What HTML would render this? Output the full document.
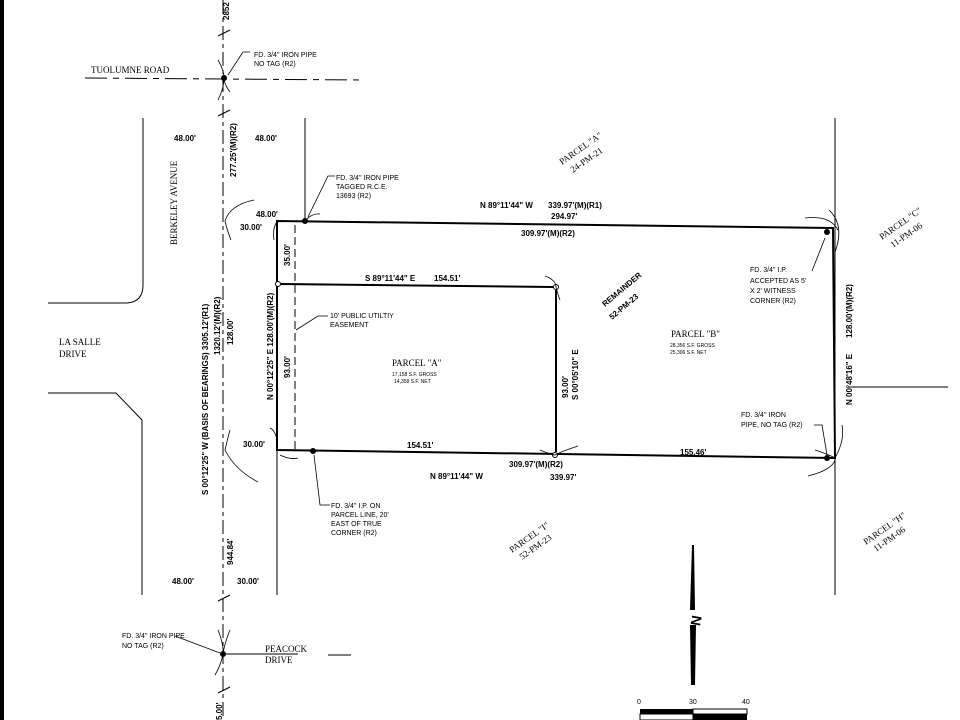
<!DOCTYPE html>
<html><head><style>
html,body{margin:0;padding:0;background:#fff;}
svg{display:block;}
text{font-family:"Liberation Sans",sans-serif;fill:#000;}
.s{font-size:7px;}
.b{font-size:8px;font-weight:bold;}
.r{font-family:"Liberation Serif",serif;font-size:9px;}
</style></head><body>
<svg width="960" height="720" viewBox="0 0 960 720" xmlns="http://www.w3.org/2000/svg">
<rect x="0" y="0" width="4" height="720" fill="#000"/>
<g stroke="#000" fill="none" stroke-width="1">
<line x1="223" y1="0" x2="223" y2="720" stroke-dasharray="14,4,4,4"/>
<line x1="85" y1="78" x2="363" y2="80" stroke-dasharray="22,6,6,6"/>
<line x1="223" y1="654" x2="298" y2="654"/><line x1="328" y1="655" x2="351" y2="655"/>
<path d="M143 118 V285 Q143 303 125 303 H48"/>
<path d="M48 393 H116 L142 420 V595"/>
<line x1="305" y1="118" x2="305" y2="221"/>
<line x1="277" y1="450" x2="277" y2="595"/>
<line x1="835" y1="118" x2="835" y2="595"/>
<line x1="848" y1="387" x2="948" y2="387"/>
<line x1="295" y1="225" x2="295" y2="452" stroke-dasharray="8,4"/>
<path d="M218 36 L230 30 M218 116 L230 110 M218 601 L230 595 M218 693 L230 687" />
</g>
<g stroke="#000" fill="none" stroke-width="2">
<path d="M277 221 L833 228 L835 458 L277 450 Z"/>
<path d="M281 284 L553 287 M556 290 V452"/>
</g>
<g fill="#000">
<circle cx="224" cy="78" r="3"/><circle cx="305" cy="221" r="3"/><circle cx="827" cy="232" r="3"/>
<circle cx="313" cy="451" r="3"/><circle cx="827" cy="458" r="3"/><circle cx="223" cy="654" r="3"/>
</g>
<g fill="#fff" stroke="#000">
<circle cx="278" cy="284" r="2.5"/><circle cx="556" cy="287" r="2.5"/><circle cx="555" cy="455" r="2.5"/>
</g>
<g stroke="#000" fill="none" stroke-width="0.8">
<path d="M218 60 Q224 70 224 78 Q224 88 218 100 M230 92 Q224 84 224 78"/>
<path d="M254 200 Q230 205 225 221 Q227 230 231 240"/>
<path d="M829 210 Q845 225 835 252 M805 218 Q830 215 838 230"/>
<path d="M815 450 Q830 455 835 458 Q845 440 842 425 M808 476 Q832 470 835 460"/>
<path d="M258 482 Q235 470 225 450 Q228 437 230 430"/>
<path d="M277 440 Q275 430 270 428 M280 455 Q290 460 298 458"/>
<path d="M218 630 Q224 645 223 654 Q221 665 215 675 M230 630 Q224 645 223 654"/>
<path d="M274 240 Q272 230 277 221 M320 214 Q312 213 305 221"/>
<path d="M545 276 Q556 280 556 287 Q558 295 560 300 M540 450 Q552 455 555 455 Q560 452 578 446"/>
</g>
<g stroke="#000" fill="none" stroke-width="0.8">
<path d="M250 52 H243 L228 75"/>
<path d="M335 176 H328 L308 217"/>
<path d="M328 316 H318 L296 330"/>
<path d="M330 505 H320 L314 455"/>
<path d="M812 271 L825 238"/>
<path d="M814 425 H822 L827 455"/>
<path d="M175 636 L220 653"/>
</g>
<path d="M692 545 L694 545 L695 610 L690 610 Z M690 625 L696 625 L695 685 L691 685 Z" fill="#000"/>
<text x="688" y="628" font-size="14" font-weight="bold" transform="rotate(-80 693 620)">N</text>
<rect x="640" y="709" width="53" height="5" fill="#000"/><rect x="693" y="709" width="54" height="5" fill="#fff" stroke="#000"/>
<rect x="693" y="714" width="54" height="6" fill="#000"/><rect x="640" y="714" width="53" height="6" fill="#fff" stroke="#000"/>
<text x="637" y="704" class="s">0</text><text x="689" y="704" class="s">30</text><text x="742" y="704" class="s">40</text>
<text x="91" y="73" class="r">TUOLUMNE ROAD</text>
<text x="254" y="57" class="s">FD. 3/4" IRON PIPE</text><text x="254" y="66" class="s">NO TAG (R2)</text>
<text x="336" y="180" class="s">FD. 3/4" IRON PIPE</text><text x="336" y="189" class="s">TAGGED R.C.E.</text><text x="336" y="198" class="s">13693 (R2)</text>
<text x="330" y="318" class="s">10' PUBLIC UTILTIY</text><text x="330" y="327" class="s">EASEMENT</text>
<text x="331" y="508" class="s">FD. 3/4" I.P. ON</text><text x="331" y="517" class="s">PARCEL LINE, 20'</text><text x="331" y="526" class="s">EAST OF TRUE</text><text x="331" y="535" class="s">CORNER (R2)</text>
<text x="750" y="272" class="s">FD. 3/4" I.P.</text><text x="750" y="283" class="s">ACCEPTED AS 5'</text><text x="750" y="293" class="s">X 2' WITNESS</text><text x="750" y="303" class="s">CORNER (R2)</text>
<text x="741" y="417" class="s">FD. 3/4" IRON</text><text x="741" y="427" class="s">PIPE, NO TAG (R2)</text>
<text x="122" y="638" class="s">FD. 3/4" IRON PIPE</text><text x="122" y="648" class="s">NO TAG (R2)</text>
<text x="265" y="652" class="r">PEACOCK</text><text x="265" y="663" class="r">DRIVE</text>
<text x="59" y="345" class="r">LA SALLE</text><text x="59" y="357" class="r">DRIVE</text>
<text x="177" y="245" class="r" transform="rotate(-90 177 245)">BERKELEY AVENUE</text>
<text x="174" y="141" class="b">48.00'</text><text x="255" y="141" class="b">48.00'</text>
<text x="256" y="217" class="b">48.00'</text><text x="240" y="230" class="b">30.00'</text>
<text x="243" y="447" class="b">30.00'</text>
<text x="172" y="584" class="b">48.00'</text><text x="237" y="584" class="b">30.00'</text>
<text x="236" y="177" class="b" transform="rotate(-90 236 177)">277.25'(M)(R2)</text>
<text x="229" y="20" class="b" transform="rotate(-90 229 20)">2852</text>
<text x="208" y="495" class="b" transform="rotate(-90 208 495)">S 00°12'25" W (BASIS OF BEARINGS) 3305.12'(R1)</text>
<text x="220" y="355" class="b" transform="rotate(-90 220 355)">1320.12'(M)(R2)</text>
<text x="233" y="345" class="b" transform="rotate(-90 233 345)">128.00'</text>
<text x="233" y="565" class="b" transform="rotate(-90 233 565)">944.84'</text>
<text x="222" y="720" class="b" transform="rotate(-90 222 720)">5.00'</text>
<text x="290" y="266" class="b" transform="rotate(-90 290 266)">35.00'</text>
<text x="273" y="400" class="b" transform="rotate(-90 273 400)">N 00°12'25" E 128.00'(M)(R2)</text>
<text x="290" y="378" class="b" transform="rotate(-90 290 378)">93.00'</text>
<text x="365" y="281" class="b">S 89°11'44" E</text><text x="434" y="281" class="b">154.51'</text>
<text x="480" y="208" class="b">N 89°11'44" W</text><text x="548" y="208" class="b">339.97'(M)(R1)</text>
<text x="551" y="219" class="b">294.97'</text><text x="521" y="236" class="b">309.97'(M)(R2)</text>
<text x="407" y="448" class="b">154.51'</text><text x="680" y="455" class="b">155.46'</text>
<text x="509" y="467" class="b">309.97'(M)(R2)</text><text x="550" y="480" class="b">339.97'</text>
<text x="430" y="479" class="b">N 89°11'44" W</text>
<text x="568" y="398" class="b" transform="rotate(-90 568 398)">93.00'</text>
<text x="578" y="400" class="b" transform="rotate(-90 578 400)">S 00°05'10" E</text>
<text x="852" y="405" class="b" transform="rotate(-90 852 405)">N 00°48'16" E</text>
<text x="852" y="338" class="b" transform="rotate(-90 852 338)">128.00'(M)(R2)</text>
<text x="605" y="307" class="b" transform="rotate(-40 605 307)">REMAINDER</text>
<text x="612" y="320" class="b" transform="rotate(-40 612 320)">52-PM-23</text>
<text x="392" y="366" class="r">PARCEL "A"</text><text x="392" y="376" font-size="5">17,158 S.F. GROSS</text><text x="394" y="383" font-size="5">14,358 S.F. NET</text>
<text x="671" y="337" class="r">PARCEL "B"</text><text x="670" y="347" font-size="5">28,356 S.F. GROSS</text><text x="670" y="354" font-size="5">25,306 S.F. NET</text>
<text x="562" y="165" class="r" transform="rotate(-35 562 165)">PARCEL "A"</text>
<text x="573" y="173" class="r" transform="rotate(-35 573 173)">24-PM-21</text>
<text x="882" y="240" class="r" transform="rotate(-35 882 240)">PARCEL "C"</text>
<text x="893" y="248" class="r" transform="rotate(-35 893 248)">11-PM-06</text>
<text x="512" y="553" class="r" transform="rotate(-35 512 553)">PARCEL "I"</text>
<text x="522" y="560" class="r" transform="rotate(-35 522 560)">52-PM-23</text>
<text x="866" y="545" class="r" transform="rotate(-35 866 545)">PARCEL "H"</text>
<text x="876" y="552" class="r" transform="rotate(-35 876 552)">11-PM-06</text>
</svg>
</body></html>
